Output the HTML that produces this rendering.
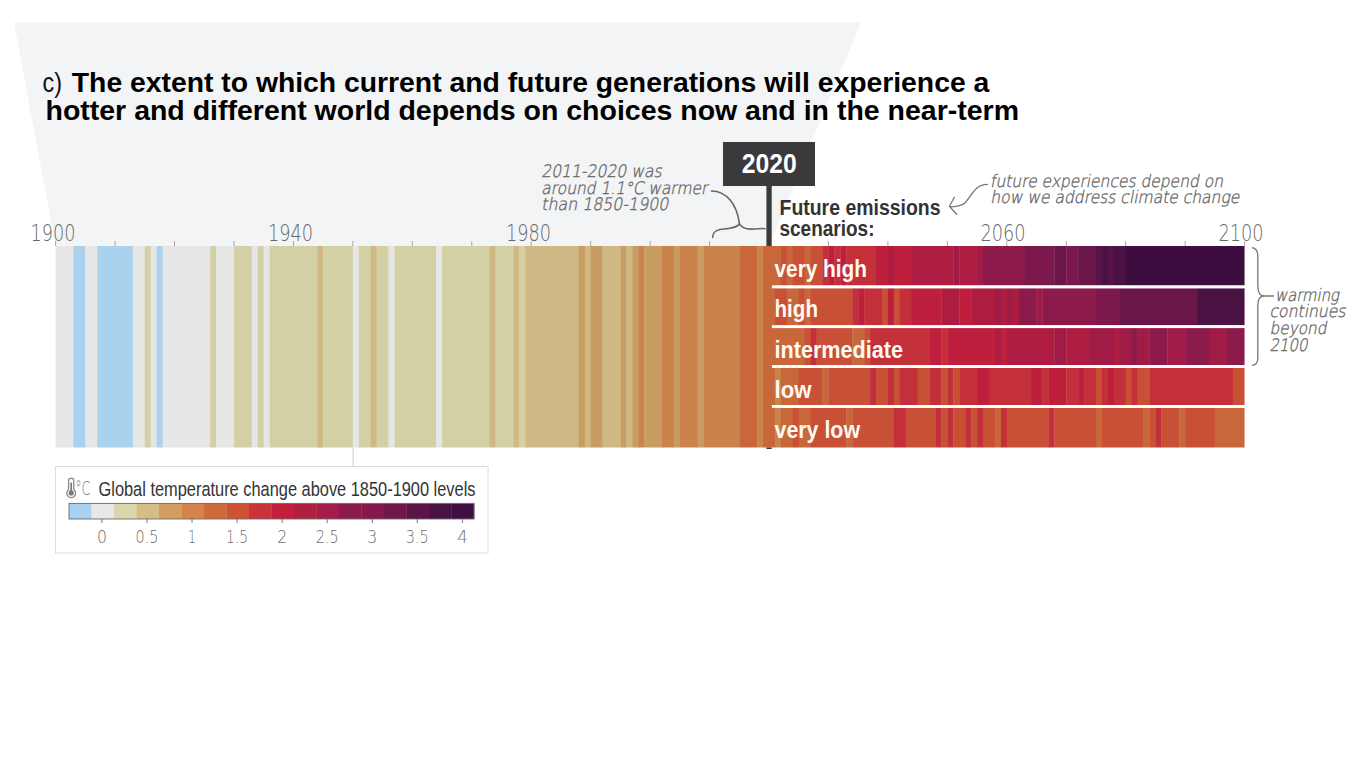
<!DOCTYPE html>
<html><head><meta charset="utf-8"><title>IPCC stripes</title>
<style>
html,body{margin:0;padding:0;background:#fff;width:1366px;height:768px;overflow:hidden;}
svg{position:absolute;left:0;top:0;display:block}
.t{font-family:"Liberation Sans",sans-serif}
</style></head><body>
<svg width="1366" height="768" viewBox="0 0 1366 768">
<rect width="1366" height="768" fill="#fff"/>
<polygon points="14,22.5 860.5,22.5 769.3,246 55.6,246" fill="#f3f4f6"/>
<rect x="55.60" y="246.0" width="18.19" height="201.50" fill="#e6e6e7"/>
<rect x="73.44" y="246.0" width="12.24" height="201.50" fill="#aad2ef"/>
<rect x="85.33" y="246.0" width="12.24" height="201.50" fill="#e6e6e7"/>
<rect x="97.22" y="246.0" width="36.02" height="201.50" fill="#aad2ef"/>
<rect x="132.88" y="246.0" width="12.24" height="201.50" fill="#e6e6e7"/>
<rect x="144.78" y="246.0" width="6.29" height="201.50" fill="#d4d0a6"/>
<rect x="150.72" y="246.0" width="6.29" height="201.50" fill="#e6e6e7"/>
<rect x="156.66" y="246.0" width="6.30" height="201.50" fill="#aad2ef"/>
<rect x="162.61" y="246.0" width="47.91" height="201.50" fill="#e6e6e7"/>
<rect x="210.17" y="246.0" width="6.30" height="201.50" fill="#d4d0a6"/>
<rect x="216.12" y="246.0" width="18.19" height="201.50" fill="#e6e6e7"/>
<rect x="233.95" y="246.0" width="18.18" height="201.50" fill="#d4d0a6"/>
<rect x="251.78" y="246.0" width="6.30" height="201.50" fill="#e6e6e7"/>
<rect x="257.73" y="246.0" width="6.29" height="201.50" fill="#d4d0a6"/>
<rect x="263.68" y="246.0" width="6.29" height="201.50" fill="#e6e6e7"/>
<rect x="269.62" y="246.0" width="47.91" height="201.50" fill="#d4d0a6"/>
<rect x="317.18" y="246.0" width="6.29" height="201.50" fill="#cfb883"/>
<rect x="323.13" y="246.0" width="30.07" height="201.50" fill="#d4d0a6"/>
<rect x="352.85" y="246.0" width="6.29" height="201.50" fill="#e6e6e7"/>
<rect x="358.80" y="246.0" width="12.24" height="201.50" fill="#d4d0a6"/>
<rect x="370.69" y="246.0" width="6.29" height="201.50" fill="#cfb883"/>
<rect x="376.63" y="246.0" width="12.24" height="201.50" fill="#d4d0a6"/>
<rect x="388.52" y="246.0" width="6.29" height="201.50" fill="#e6e6e7"/>
<rect x="394.47" y="246.0" width="41.97" height="201.50" fill="#d4d0a6"/>
<rect x="436.08" y="246.0" width="6.29" height="201.50" fill="#e6e6e7"/>
<rect x="442.03" y="246.0" width="47.91" height="201.50" fill="#d4d0a6"/>
<rect x="489.59" y="246.0" width="6.29" height="201.50" fill="#cfb883"/>
<rect x="495.53" y="246.0" width="18.18" height="201.50" fill="#d4d0a6"/>
<rect x="513.37" y="246.0" width="6.30" height="201.50" fill="#cfb883"/>
<rect x="519.31" y="246.0" width="6.29" height="201.50" fill="#d4d0a6"/>
<rect x="525.25" y="246.0" width="53.86" height="201.50" fill="#cfb883"/>
<rect x="578.76" y="246.0" width="6.29" height="201.50" fill="#c99c62"/>
<rect x="584.71" y="246.0" width="6.30" height="201.50" fill="#cfb883"/>
<rect x="590.65" y="246.0" width="12.24" height="201.50" fill="#c99c62"/>
<rect x="602.54" y="246.0" width="18.18" height="201.50" fill="#cfb883"/>
<rect x="620.38" y="246.0" width="6.30" height="201.50" fill="#c99c62"/>
<rect x="626.32" y="246.0" width="6.30" height="201.50" fill="#cfb883"/>
<rect x="632.27" y="246.0" width="6.29" height="201.50" fill="#c99c62"/>
<rect x="638.21" y="246.0" width="6.30" height="201.50" fill="#cb834c"/>
<rect x="644.16" y="246.0" width="18.18" height="201.50" fill="#c99c62"/>
<rect x="661.99" y="246.0" width="12.24" height="201.50" fill="#cb834c"/>
<rect x="673.88" y="246.0" width="6.30" height="201.50" fill="#c99c62"/>
<rect x="679.83" y="246.0" width="18.19" height="201.50" fill="#cb834c"/>
<rect x="697.66" y="246.0" width="6.29" height="201.50" fill="#c99c62"/>
<rect x="703.61" y="246.0" width="36.02" height="201.50" fill="#cb834c"/>
<rect x="739.28" y="246.0" width="18.18" height="201.50" fill="#c8683a"/>
<rect x="757.11" y="246.0" width="6.30" height="201.50" fill="#cb834c"/>
<rect x="763.06" y="246.0" width="12.24" height="201.50" fill="#c8683a"/>
<rect x="774.95" y="246.0" width="6.30" height="39.60" fill="#c8683a"/>
<rect x="780.89" y="246.0" width="6.29" height="39.60" fill="#c85037"/>
<rect x="786.84" y="246.0" width="6.30" height="39.60" fill="#c8683a"/>
<rect x="792.78" y="246.0" width="12.24" height="39.60" fill="#c85037"/>
<rect x="804.67" y="246.0" width="6.29" height="39.60" fill="#c8683a"/>
<rect x="810.62" y="246.0" width="12.24" height="39.60" fill="#c85037"/>
<rect x="822.51" y="246.0" width="6.29" height="39.60" fill="#c4303a"/>
<rect x="828.45" y="246.0" width="6.30" height="39.60" fill="#bd1f3c"/>
<rect x="834.40" y="246.0" width="6.29" height="39.60" fill="#c4303a"/>
<rect x="840.34" y="246.0" width="6.30" height="39.60" fill="#bd1f3c"/>
<rect x="846.29" y="246.0" width="30.08" height="39.60" fill="#c4303a"/>
<rect x="876.01" y="246.0" width="12.24" height="39.60" fill="#bd1f3c"/>
<rect x="887.90" y="246.0" width="6.29" height="39.60" fill="#ae1d41"/>
<rect x="893.85" y="246.0" width="18.19" height="39.60" fill="#bd1f3c"/>
<rect x="911.68" y="246.0" width="41.97" height="39.60" fill="#ae1d41"/>
<rect x="953.30" y="246.0" width="6.30" height="39.60" fill="#a01c46"/>
<rect x="959.24" y="246.0" width="18.18" height="39.60" fill="#ae1d41"/>
<rect x="977.08" y="246.0" width="6.30" height="39.60" fill="#a01c46"/>
<rect x="983.02" y="246.0" width="41.96" height="39.60" fill="#8c1a4a"/>
<rect x="1024.63" y="246.0" width="30.07" height="39.60" fill="#7c184b"/>
<rect x="1054.36" y="246.0" width="12.24" height="39.60" fill="#6a1649"/>
<rect x="1066.25" y="246.0" width="12.24" height="39.60" fill="#7c184b"/>
<rect x="1078.14" y="246.0" width="18.18" height="39.60" fill="#6a1649"/>
<rect x="1095.97" y="246.0" width="6.30" height="39.60" fill="#581446"/>
<rect x="1101.92" y="246.0" width="6.29" height="39.60" fill="#4a1243"/>
<rect x="1107.87" y="246.0" width="6.29" height="39.60" fill="#581446"/>
<rect x="1113.81" y="246.0" width="12.24" height="39.60" fill="#4a1243"/>
<rect x="1125.70" y="246.0" width="118.85" height="39.60" fill="#3e0d40"/>
<rect x="774.95" y="288.2" width="12.24" height="37.20" fill="#c85037"/>
<rect x="786.84" y="288.2" width="12.24" height="37.20" fill="#c8683a"/>
<rect x="798.73" y="288.2" width="6.30" height="37.20" fill="#c85037"/>
<rect x="804.67" y="288.2" width="6.29" height="37.20" fill="#c8683a"/>
<rect x="810.62" y="288.2" width="41.97" height="37.20" fill="#c85037"/>
<rect x="852.23" y="288.2" width="6.30" height="37.20" fill="#c4303a"/>
<rect x="858.18" y="288.2" width="6.29" height="37.20" fill="#bd1f3c"/>
<rect x="864.12" y="288.2" width="18.19" height="37.20" fill="#c4303a"/>
<rect x="881.96" y="288.2" width="6.30" height="37.20" fill="#c85037"/>
<rect x="887.90" y="288.2" width="6.29" height="37.20" fill="#bd1f3c"/>
<rect x="893.85" y="288.2" width="6.30" height="37.20" fill="#c85037"/>
<rect x="899.79" y="288.2" width="12.24" height="37.20" fill="#c4303a"/>
<rect x="911.68" y="288.2" width="30.08" height="37.20" fill="#bd1f3c"/>
<rect x="941.41" y="288.2" width="18.19" height="37.20" fill="#ae1d41"/>
<rect x="959.24" y="288.2" width="12.24" height="37.20" fill="#bd1f3c"/>
<rect x="971.13" y="288.2" width="24.13" height="37.20" fill="#ae1d41"/>
<rect x="994.91" y="288.2" width="6.29" height="37.20" fill="#a01c46"/>
<rect x="1000.86" y="288.2" width="6.30" height="37.20" fill="#ae1d41"/>
<rect x="1006.80" y="288.2" width="6.30" height="37.20" fill="#a01c46"/>
<rect x="1012.75" y="288.2" width="6.29" height="37.20" fill="#ae1d41"/>
<rect x="1018.69" y="288.2" width="18.19" height="37.20" fill="#8c1a4a"/>
<rect x="1036.53" y="288.2" width="6.29" height="37.20" fill="#a01c46"/>
<rect x="1042.47" y="288.2" width="53.85" height="37.20" fill="#8c1a4a"/>
<rect x="1095.97" y="288.2" width="24.13" height="37.20" fill="#7c184b"/>
<rect x="1119.75" y="288.2" width="77.64" height="37.20" fill="#6a1649"/>
<rect x="1197.04" y="288.2" width="47.51" height="37.20" fill="#4a1243"/>
<rect x="774.95" y="328.0" width="30.08" height="37.20" fill="#c8683a"/>
<rect x="804.67" y="328.0" width="6.29" height="37.20" fill="#c85037"/>
<rect x="810.62" y="328.0" width="6.30" height="37.20" fill="#c4303a"/>
<rect x="816.56" y="328.0" width="36.02" height="37.20" fill="#c85037"/>
<rect x="852.23" y="328.0" width="12.24" height="37.20" fill="#c8683a"/>
<rect x="864.12" y="328.0" width="6.30" height="37.20" fill="#c85037"/>
<rect x="870.07" y="328.0" width="59.80" height="37.20" fill="#c4303a"/>
<rect x="929.52" y="328.0" width="12.24" height="37.20" fill="#bd1f3c"/>
<rect x="941.41" y="328.0" width="6.29" height="37.20" fill="#c4303a"/>
<rect x="947.35" y="328.0" width="47.91" height="37.20" fill="#bd1f3c"/>
<rect x="994.91" y="328.0" width="6.29" height="37.20" fill="#ae1d41"/>
<rect x="1000.86" y="328.0" width="6.30" height="37.20" fill="#bd1f3c"/>
<rect x="1006.80" y="328.0" width="47.91" height="37.20" fill="#ae1d41"/>
<rect x="1054.36" y="328.0" width="12.24" height="37.20" fill="#a01c46"/>
<rect x="1066.25" y="328.0" width="24.13" height="37.20" fill="#ae1d41"/>
<rect x="1090.03" y="328.0" width="24.13" height="37.20" fill="#a01c46"/>
<rect x="1113.81" y="328.0" width="6.29" height="37.20" fill="#ae1d41"/>
<rect x="1119.75" y="328.0" width="12.24" height="37.20" fill="#a01c46"/>
<rect x="1131.64" y="328.0" width="6.29" height="37.20" fill="#8c1a4a"/>
<rect x="1137.59" y="328.0" width="12.24" height="37.20" fill="#a01c46"/>
<rect x="1149.48" y="328.0" width="18.19" height="37.20" fill="#8c1a4a"/>
<rect x="1167.32" y="328.0" width="18.18" height="37.20" fill="#a01c46"/>
<rect x="1185.15" y="328.0" width="24.13" height="37.20" fill="#8c1a4a"/>
<rect x="1208.93" y="328.0" width="18.18" height="37.20" fill="#a01c46"/>
<rect x="1226.76" y="328.0" width="17.79" height="37.20" fill="#8c1a4a"/>
<rect x="774.95" y="367.8" width="6.30" height="37.30" fill="#cb834c"/>
<rect x="780.89" y="367.8" width="18.18" height="37.30" fill="#c8683a"/>
<rect x="798.73" y="367.8" width="24.13" height="37.30" fill="#c85037"/>
<rect x="822.51" y="367.8" width="6.29" height="37.30" fill="#c8683a"/>
<rect x="828.45" y="367.8" width="41.97" height="37.30" fill="#c85037"/>
<rect x="870.07" y="367.8" width="6.30" height="37.30" fill="#c4303a"/>
<rect x="876.01" y="367.8" width="12.24" height="37.30" fill="#c85037"/>
<rect x="887.90" y="367.8" width="6.29" height="37.30" fill="#c4303a"/>
<rect x="893.85" y="367.8" width="6.30" height="37.30" fill="#c85037"/>
<rect x="899.79" y="367.8" width="18.19" height="37.30" fill="#c4303a"/>
<rect x="917.63" y="367.8" width="12.24" height="37.30" fill="#c85037"/>
<rect x="929.52" y="367.8" width="12.24" height="37.30" fill="#c4303a"/>
<rect x="941.41" y="367.8" width="6.29" height="37.30" fill="#c85037"/>
<rect x="947.35" y="367.8" width="6.30" height="37.30" fill="#c4303a"/>
<rect x="953.30" y="367.8" width="6.30" height="37.30" fill="#c85037"/>
<rect x="959.24" y="367.8" width="18.18" height="37.30" fill="#c4303a"/>
<rect x="977.08" y="367.8" width="12.24" height="37.30" fill="#bd1f3c"/>
<rect x="988.97" y="367.8" width="41.96" height="37.30" fill="#c4303a"/>
<rect x="1030.58" y="367.8" width="12.24" height="37.30" fill="#bd1f3c"/>
<rect x="1042.47" y="367.8" width="6.29" height="37.30" fill="#c4303a"/>
<rect x="1048.41" y="367.8" width="18.19" height="37.30" fill="#bd1f3c"/>
<rect x="1066.25" y="367.8" width="12.24" height="37.30" fill="#c4303a"/>
<rect x="1078.14" y="367.8" width="6.29" height="37.30" fill="#bd1f3c"/>
<rect x="1084.09" y="367.8" width="12.24" height="37.30" fill="#c4303a"/>
<rect x="1095.97" y="367.8" width="6.30" height="37.30" fill="#c85037"/>
<rect x="1101.92" y="367.8" width="6.29" height="37.30" fill="#c4303a"/>
<rect x="1107.87" y="367.8" width="6.29" height="37.30" fill="#bd1f3c"/>
<rect x="1113.81" y="367.8" width="12.24" height="37.30" fill="#c4303a"/>
<rect x="1125.70" y="367.8" width="6.29" height="37.30" fill="#c85037"/>
<rect x="1131.64" y="367.8" width="6.29" height="37.30" fill="#c4303a"/>
<rect x="1137.59" y="367.8" width="12.24" height="37.30" fill="#c85037"/>
<rect x="1149.48" y="367.8" width="83.58" height="37.30" fill="#c4303a"/>
<rect x="1232.71" y="367.8" width="11.84" height="37.30" fill="#c85037"/>
<rect x="774.95" y="407.7" width="6.30" height="39.80" fill="#cb834c"/>
<rect x="780.89" y="407.7" width="12.24" height="39.80" fill="#c8683a"/>
<rect x="792.78" y="407.7" width="6.29" height="39.80" fill="#c85037"/>
<rect x="798.73" y="407.7" width="12.24" height="39.80" fill="#c8683a"/>
<rect x="810.62" y="407.7" width="36.02" height="39.80" fill="#c85037"/>
<rect x="846.29" y="407.7" width="6.29" height="39.80" fill="#c8683a"/>
<rect x="852.23" y="407.7" width="41.97" height="39.80" fill="#c85037"/>
<rect x="893.85" y="407.7" width="12.24" height="39.80" fill="#c4303a"/>
<rect x="905.74" y="407.7" width="30.08" height="39.80" fill="#c85037"/>
<rect x="935.46" y="407.7" width="6.30" height="39.80" fill="#c4303a"/>
<rect x="941.41" y="407.7" width="6.29" height="39.80" fill="#c85037"/>
<rect x="947.35" y="407.7" width="6.30" height="39.80" fill="#c4303a"/>
<rect x="953.30" y="407.7" width="12.24" height="39.80" fill="#c85037"/>
<rect x="965.19" y="407.7" width="6.30" height="39.80" fill="#c4303a"/>
<rect x="971.13" y="407.7" width="6.29" height="39.80" fill="#c85037"/>
<rect x="977.08" y="407.7" width="6.30" height="39.80" fill="#c4303a"/>
<rect x="983.02" y="407.7" width="12.24" height="39.80" fill="#c85037"/>
<rect x="994.91" y="407.7" width="6.29" height="39.80" fill="#c8683a"/>
<rect x="1000.86" y="407.7" width="6.30" height="39.80" fill="#c4303a"/>
<rect x="1006.80" y="407.7" width="41.96" height="39.80" fill="#c85037"/>
<rect x="1048.41" y="407.7" width="6.29" height="39.80" fill="#c4303a"/>
<rect x="1054.36" y="407.7" width="41.97" height="39.80" fill="#c85037"/>
<rect x="1095.97" y="407.7" width="6.30" height="39.80" fill="#c8683a"/>
<rect x="1101.92" y="407.7" width="41.96" height="39.80" fill="#c85037"/>
<rect x="1143.53" y="407.7" width="6.30" height="39.80" fill="#c8683a"/>
<rect x="1149.48" y="407.7" width="6.29" height="39.80" fill="#c85037"/>
<rect x="1155.42" y="407.7" width="6.29" height="39.80" fill="#c4303a"/>
<rect x="1161.37" y="407.7" width="18.19" height="39.80" fill="#c85037"/>
<rect x="1179.20" y="407.7" width="6.29" height="39.80" fill="#c8683a"/>
<rect x="1185.15" y="407.7" width="30.08" height="39.80" fill="#c85037"/>
<rect x="1214.88" y="407.7" width="29.68" height="39.80" fill="#c8683a"/>
<rect x="771.9" y="285.4" width="472.30" height="2.90" fill="#fff"/>
<rect x="771.9" y="325.2" width="472.30" height="2.90" fill="#fff"/>
<rect x="771.9" y="365.1" width="472.30" height="2.90" fill="#fff"/>
<rect x="771.9" y="405.0" width="472.30" height="2.90" fill="#fff"/>
<rect x="55.10" y="241" width="1" height="5" fill="#a8a8a8"/>
<rect x="114.55" y="241" width="1" height="5" fill="#a8a8a8"/>
<rect x="174.00" y="241" width="1" height="5" fill="#a8a8a8"/>
<rect x="233.45" y="241" width="1" height="5" fill="#a8a8a8"/>
<rect x="292.90" y="241" width="1" height="5" fill="#a8a8a8"/>
<rect x="352.35" y="241" width="1" height="5" fill="#a8a8a8"/>
<rect x="411.80" y="241" width="1" height="5" fill="#a8a8a8"/>
<rect x="471.25" y="241" width="1" height="5" fill="#a8a8a8"/>
<rect x="530.70" y="241" width="1" height="5" fill="#a8a8a8"/>
<rect x="590.15" y="241" width="1" height="5" fill="#a8a8a8"/>
<rect x="649.60" y="241" width="1" height="5" fill="#a8a8a8"/>
<rect x="709.05" y="241" width="1" height="5" fill="#a8a8a8"/>
<rect x="768.50" y="241" width="1" height="5" fill="#a8a8a8"/>
<rect x="827.95" y="241" width="1" height="5" fill="#a8a8a8"/>
<rect x="887.40" y="241" width="1" height="5" fill="#a8a8a8"/>
<rect x="946.85" y="241" width="1" height="5" fill="#a8a8a8"/>
<rect x="1006.30" y="241" width="1" height="5" fill="#a8a8a8"/>
<rect x="1065.75" y="241" width="1" height="5" fill="#a8a8a8"/>
<rect x="1125.20" y="241" width="1" height="5" fill="#a8a8a8"/>
<rect x="1184.65" y="241" width="1" height="5" fill="#a8a8a8"/>
<rect x="1244.10" y="241" width="1" height="5" fill="#a8a8a8"/>
<rect x="352.6" y="447.5" width="1" height="20" fill="#cfcfcf"/>
<rect x="55.5" y="466.5" width="432.5" height="86.5" fill="#fff" stroke="#dcdcdc" stroke-width="1"/>
<rect x="69.00" y="503.4" width="22.80" height="15.6" fill="#a8d0f0"/>
<rect x="91.50" y="503.4" width="22.80" height="15.6" fill="#e8e8e8"/>
<rect x="114.00" y="503.4" width="22.80" height="15.6" fill="#d9d5ad"/>
<rect x="136.50" y="503.4" width="22.80" height="15.6" fill="#d6bc86"/>
<rect x="159.00" y="503.4" width="22.80" height="15.6" fill="#d19d60"/>
<rect x="181.50" y="503.4" width="22.80" height="15.6" fill="#d4844a"/>
<rect x="204.00" y="503.4" width="22.80" height="15.6" fill="#cf6b3a"/>
<rect x="226.50" y="503.4" width="22.80" height="15.6" fill="#cf5236"/>
<rect x="249.00" y="503.4" width="22.80" height="15.6" fill="#c9343a"/>
<rect x="271.50" y="503.4" width="22.80" height="15.6" fill="#c11f3c"/>
<rect x="294.00" y="503.4" width="22.80" height="15.6" fill="#b11f3e"/>
<rect x="316.50" y="503.4" width="22.80" height="15.6" fill="#a31d47"/>
<rect x="339.00" y="503.4" width="22.80" height="15.6" fill="#8c1a4a"/>
<rect x="361.50" y="503.4" width="22.80" height="15.6" fill="#86184e"/>
<rect x="384.00" y="503.4" width="22.80" height="15.6" fill="#6f164a"/>
<rect x="406.50" y="503.4" width="22.80" height="15.6" fill="#5a1448"/>
<rect x="429.00" y="503.4" width="22.80" height="15.6" fill="#481242"/>
<rect x="451.50" y="503.4" width="22.80" height="15.6" fill="#3e0e44"/>
<rect x="69" y="503.4" width="405" height="15.6" fill="none" stroke="#6a6a6a" stroke-width="0.9"/>
<rect x="101.40" y="519" width="1" height="4" fill="#777"/>
<rect x="146.46" y="519" width="1" height="4" fill="#777"/>
<rect x="191.52" y="519" width="1" height="4" fill="#777"/>
<rect x="236.58" y="519" width="1" height="4" fill="#777"/>
<rect x="281.64" y="519" width="1" height="4" fill="#777"/>
<rect x="326.70" y="519" width="1" height="4" fill="#777"/>
<rect x="371.76" y="519" width="1" height="4" fill="#777"/>
<rect x="416.82" y="519" width="1" height="4" fill="#777"/>
<rect x="461.88" y="519" width="1" height="4" fill="#777"/>
<path d="M68.6,489.6 L68.6,480.6 A2.6,2.6 0 0 1 73.8,480.6 L73.8,489.6 A4.4,4.4 0 1 1 68.6,489.6 Z" fill="#fff" stroke="#858585" stroke-width="1.25"/>
<rect x="70.35" y="482.5" width="1.7" height="9.5" fill="#7a7a7a"/>
<circle cx="71.2" cy="492.9" r="2.6" fill="#7a7a7a"/>
<path d="M711.4,191 C727,191 737,205 739.4,223.6 M739.4,223.6 C737,228.5 728,228.5 720,229.5 C715,230.5 712.5,234 712.7,237.5 M739.4,223.6 C741,228.5 748,229.5 755,229 C760,228.5 763,228.3 765,228.7" fill="none" stroke="#666" stroke-width="1.6" stroke-linecap="round"/>
<path d="M987.5,184.4 C975,184.5 972,195 965,203 C960,206.5 954,207 949.4,206.3 M954.4,197.3 L949.4,206.3 L956.7,214.2" fill="none" stroke="#777" stroke-width="1.3" stroke-linecap="round" stroke-linejoin="round"/>
<path d="M1251.9,247.6 C1256.5,248 1257.8,251 1257.8,256 L1257.8,285 C1257.8,292 1259.5,296 1264,296 L1274,296 M1264,296 C1259.5,296 1257.8,300 1257.8,306 L1257.8,358 C1257.8,362.5 1256,365.2 1251.9,365.4" fill="none" stroke="#777" stroke-width="1.3"/>
<text x="42.5" y="91.5" font-family='"Liberation Sans",sans-serif' font-size="27.5" font-weight="normal" fill="#111" text-anchor="start" textLength="19.5" lengthAdjust="spacingAndGlyphs">c)</text>
<text x="71.8" y="91.5" font-family='"Liberation Sans",sans-serif' font-size="27.5" font-weight="bold" fill="#000" text-anchor="start" textLength="917.5" lengthAdjust="spacingAndGlyphs">The extent to which current and future generations will experience a</text>
<text x="45.5" y="119.8" font-family='"Liberation Sans",sans-serif' font-size="27.5" font-weight="bold" fill="#000" text-anchor="start" textLength="973.5" lengthAdjust="spacingAndGlyphs">hotter and different world depends on choices now and in the near-term</text>
<text x="53.0" y="240.5" font-family='"DejaVu Sans",sans-serif' font-size="23.3" font-weight="200" fill="#666" text-anchor="middle" textLength="45" lengthAdjust="spacingAndGlyphs">1900</text>
<text x="290.6" y="240.5" font-family='"DejaVu Sans",sans-serif' font-size="23.3" font-weight="200" fill="#666" text-anchor="middle" textLength="45" lengthAdjust="spacingAndGlyphs">1940</text>
<text x="528.5" y="240.5" font-family='"DejaVu Sans",sans-serif' font-size="23.3" font-weight="200" fill="#666" text-anchor="middle" textLength="45" lengthAdjust="spacingAndGlyphs">1980</text>
<text x="1003.0" y="240.5" font-family='"DejaVu Sans",sans-serif' font-size="23.3" font-weight="200" fill="#666" text-anchor="middle" textLength="45" lengthAdjust="spacingAndGlyphs">2060</text>
<text x="1241.0" y="240.5" font-family='"DejaVu Sans",sans-serif' font-size="23.3" font-weight="200" fill="#666" text-anchor="middle" textLength="45" lengthAdjust="spacingAndGlyphs">2100</text>
<rect x="723" y="142" width="92" height="44" fill="#3a3a3c"/>
<rect x="766.4" y="185" width="5.3" height="61" fill="#3a3a3c"/>
<rect x="766.4" y="447.5" width="5.3" height="1.5" fill="#3a3a3c"/>
<text x="769.3" y="173" font-family='"Liberation Sans",sans-serif' font-size="27.5" font-weight="bold" fill="#fff" text-anchor="middle" textLength="55" lengthAdjust="spacingAndGlyphs">2020</text>
<text x="779.5" y="214.7" font-family='"Liberation Sans",sans-serif' font-size="21.5" font-weight="bold" fill="#333" text-anchor="start" textLength="161" lengthAdjust="spacingAndGlyphs">Future emissions</text>
<text x="779.5" y="236.2" font-family='"Liberation Sans",sans-serif' font-size="21.5" font-weight="bold" fill="#333" text-anchor="start" textLength="95" lengthAdjust="spacingAndGlyphs">scenarios:</text>
<text x="774.5" y="277.3" font-family='"Liberation Sans",sans-serif' font-size="23.5" font-weight="bold" fill="#fffaf2" text-anchor="start" textLength="92.5" lengthAdjust="spacingAndGlyphs">very high</text>
<text x="774.5" y="317.4" font-family='"Liberation Sans",sans-serif' font-size="23.5" font-weight="bold" fill="#fffaf2" text-anchor="start" textLength="43.5" lengthAdjust="spacingAndGlyphs">high</text>
<text x="774.5" y="357.9" font-family='"Liberation Sans",sans-serif' font-size="23.5" font-weight="bold" fill="#fffaf2" text-anchor="start" textLength="128.5" lengthAdjust="spacingAndGlyphs">intermediate</text>
<text x="774.5" y="397.8" font-family='"Liberation Sans",sans-serif' font-size="23.5" font-weight="bold" fill="#fffaf2" text-anchor="start" textLength="37" lengthAdjust="spacingAndGlyphs">low</text>
<text x="774.5" y="437.6" font-family='"Liberation Sans",sans-serif' font-size="23.5" font-weight="bold" fill="#fffaf2" text-anchor="start" textLength="85.5" lengthAdjust="spacingAndGlyphs">very low</text>
<text transform="translate(541.2,177) skewX(-11)" x="0" y="0" font-family='"DejaVu Sans",sans-serif' font-size="17.2" font-weight="200" fill="#6a6a6a" stroke="#6a6a6a" stroke-width="0.4" textLength="120.5" lengthAdjust="spacingAndGlyphs">2011-2020 was</text>
<text transform="translate(541.3,194) skewX(-11)" x="0" y="0" font-family='"DejaVu Sans",sans-serif' font-size="17.2" font-weight="200" fill="#6a6a6a" stroke="#6a6a6a" stroke-width="0.4" textLength="166" lengthAdjust="spacingAndGlyphs">around 1.1°C warmer</text>
<text transform="translate(541.3,210.4) skewX(-11)" x="0" y="0" font-family='"DejaVu Sans",sans-serif' font-size="17.2" font-weight="200" fill="#6a6a6a" stroke="#6a6a6a" stroke-width="0.4" textLength="127" lengthAdjust="spacingAndGlyphs">than 1850-1900</text>
<text transform="translate(990,187.3) skewX(-11)" x="0" y="0" font-family='"DejaVu Sans",sans-serif' font-size="17.2" font-weight="200" fill="#6a6a6a" stroke="#6a6a6a" stroke-width="0.4" textLength="233" lengthAdjust="spacingAndGlyphs">future experiences depend on</text>
<text transform="translate(990.3,203.2) skewX(-11)" x="0" y="0" font-family='"DejaVu Sans",sans-serif' font-size="17.2" font-weight="200" fill="#6a6a6a" stroke="#6a6a6a" stroke-width="0.4" textLength="249" lengthAdjust="spacingAndGlyphs">how we address climate change</text>
<text transform="translate(1275,300.7) skewX(-11)" x="0" y="0" font-family='"DejaVu Sans",sans-serif' font-size="17.2" font-weight="200" fill="#6a6a6a" stroke="#6a6a6a" stroke-width="0.4" textLength="64" lengthAdjust="spacingAndGlyphs">warming</text>
<text transform="translate(1269.5,317) skewX(-11)" x="0" y="0" font-family='"DejaVu Sans",sans-serif' font-size="17.2" font-weight="200" fill="#6a6a6a" stroke="#6a6a6a" stroke-width="0.4" textLength="76" lengthAdjust="spacingAndGlyphs">continues</text>
<text transform="translate(1269.5,333.5) skewX(-11)" x="0" y="0" font-family='"DejaVu Sans",sans-serif' font-size="17.2" font-weight="200" fill="#6a6a6a" stroke="#6a6a6a" stroke-width="0.4" textLength="57" lengthAdjust="spacingAndGlyphs">beyond</text>
<text transform="translate(1269.5,351.4) skewX(-11)" x="0" y="0" font-family='"DejaVu Sans",sans-serif' font-size="17.2" font-weight="200" fill="#6a6a6a" stroke="#6a6a6a" stroke-width="0.4" textLength="38" lengthAdjust="spacingAndGlyphs">2100</text>
<text x="98.5" y="495.6" font-family='"Liberation Sans",sans-serif' font-size="19.7" font-weight="normal" fill="#333" text-anchor="start" textLength="377" lengthAdjust="spacingAndGlyphs">Global temperature change above 1850-1900 levels</text>
<text x="75.2" y="495.3" font-family='"DejaVu Sans",sans-serif' font-size="20" font-weight="200" fill="#7a7a7a" text-anchor="start" textLength="15.3" lengthAdjust="spacingAndGlyphs">°C</text>
<text x="101.9" y="542.5" font-family='"DejaVu Sans",sans-serif' font-size="18.5" font-weight="200" fill="#6e6e6e" text-anchor="middle" textLength="10" lengthAdjust="spacingAndGlyphs">0</text>
<text x="146.96" y="542.5" font-family='"DejaVu Sans",sans-serif' font-size="18.5" font-weight="200" fill="#6e6e6e" text-anchor="middle" textLength="23" lengthAdjust="spacingAndGlyphs">0.5</text>
<text x="192.02" y="542.5" font-family='"DejaVu Sans",sans-serif' font-size="18.5" font-weight="200" fill="#6e6e6e" text-anchor="middle" textLength="8" lengthAdjust="spacingAndGlyphs">1</text>
<text x="237.08" y="542.5" font-family='"DejaVu Sans",sans-serif' font-size="18.5" font-weight="200" fill="#6e6e6e" text-anchor="middle" textLength="22" lengthAdjust="spacingAndGlyphs">1.5</text>
<text x="282.14" y="542.5" font-family='"DejaVu Sans",sans-serif' font-size="18.5" font-weight="200" fill="#6e6e6e" text-anchor="middle" textLength="10" lengthAdjust="spacingAndGlyphs">2</text>
<text x="327.2" y="542.5" font-family='"DejaVu Sans",sans-serif' font-size="18.5" font-weight="200" fill="#6e6e6e" text-anchor="middle" textLength="23" lengthAdjust="spacingAndGlyphs">2.5</text>
<text x="372.26" y="542.5" font-family='"DejaVu Sans",sans-serif' font-size="18.5" font-weight="200" fill="#6e6e6e" text-anchor="middle" textLength="10" lengthAdjust="spacingAndGlyphs">3</text>
<text x="417.32" y="542.5" font-family='"DejaVu Sans",sans-serif' font-size="18.5" font-weight="200" fill="#6e6e6e" text-anchor="middle" textLength="23" lengthAdjust="spacingAndGlyphs">3.5</text>
<text x="462.38" y="542.5" font-family='"DejaVu Sans",sans-serif' font-size="18.5" font-weight="200" fill="#6e6e6e" text-anchor="middle" textLength="10.5" lengthAdjust="spacingAndGlyphs">4</text>
</svg>
</body></html>
